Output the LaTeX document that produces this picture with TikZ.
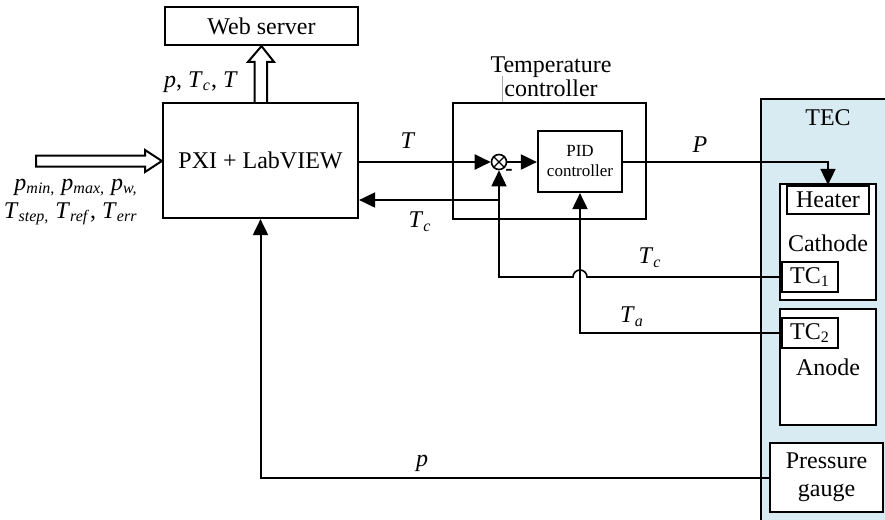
\documentclass[tikz,border=0pt]{standalone}
\usepackage{fontspec}
\setmainfont{Liberation Serif}
\usetikzlibrary{arrows.meta,calc}
\definecolor{tecblue}{RGB}{216,234,242}
\newcommand\myvar[2]{\textit{#1}\textsubscript{\textit{#2}}}
\begin{document}
\begin{tikzpicture}[x=0.5pt,y=-0.5pt,
  box/.style={draw, line width=1.1pt, inner sep=0pt, align=center, font=\fontsize{12}{13.5}\selectfont},
  lbl/.style={inner sep=0pt, font=\fontsize{12}{13}\selectfont},
  conn/.style={line width=1pt},
  tconn/.style={line width=0.8pt},
  arr/.style={-{Triangle[length=8pt,width=7.5pt]}},
  hollow/.style={draw, line width=1pt, fill=white, line join=miter}
]
\useasboundingbox (0,0) rectangle (885,520);
% TEC background
\fill[tecblue] (761,99) rectangle (885,520);
\draw[line width=1.1pt] (890,99) -- (761,99) -- (761,525);
\node[lbl] (tec) at (828,118) {TEC};

% boxes
\node[box, minimum width=96.5pt, minimum height=19pt] (web) at (261.5,26) {Web server};
\node[box, minimum width=97.5pt, minimum height=57.5pt] (pxi) at (260.5,160.5) {PXI + LabVIEW};
\node[box, minimum width=96.5pt, minimum height=58pt] (tcbox) at (549.5,161) {};
\node[lbl, align=center, font=\fontsize{12}{10.5}\selectfont] (tclabel) at (551,77) {Temperature\\controller};
\coordinate (gl) at (502,76);
\draw[gray!70, line width=0.5pt] (gl) -- (gl |- tcbox.north);
\node[draw, circle, line width=0.8pt, minimum size=7.5pt, inner sep=0pt] (sum) at (499,162) {};
\draw[line width=0.7pt] (sum.north east) -- (sum.south west) (sum.north west) -- (sum.south east);
\node[inner sep=0pt, font=\bfseries\fontsize{11}{11}\selectfont] (minus) at (509,172) {-};
\node[box, minimum width=42pt, minimum height=30.5pt, font=\fontsize{8.5}{10}\selectfont] (pid) at (580,161.5) {PID\\controller};

\node[box, fill=white, minimum width=48pt, minimum height=58pt] (cathode) at (828,242) {};
\node[lbl] (cathlbl) at (828,243) {Cathode};
\node[box, minimum width=41pt, minimum height=14pt] (heater) at (828,200) {Heater};
\node[box, minimum width=28pt, minimum height=15pt] (tc1) at (810,277) {TC\textsubscript{1}};
\node[box, fill=white, minimum width=48pt, minimum height=58pt] (anode) at (828,367) {};
\node[lbl] (anodelbl) at (828,367) {Anode};
\node[box, minimum width=28pt, minimum height=15pt] (tc2) at (810,333) {TC\textsubscript{2}};
\node[box, fill=white, minimum width=56.5pt, minimum height=34.5pt, font=\fontsize{12}{14}\selectfont] (gauge) at (826.5,477.5) {Pressure\\gauge};

% hollow arrows
\draw[hollow] ($(pxi.north)+(-6,0)$) -- ($(pxi.north)+(-6,-40)$) -- ($(pxi.north)+(-12.5,-40)$)
  -- (web.south) -- ($(pxi.north)+(13.5,-40)$) -- ($(pxi.north)+(6.5,-40)$) -- ($(pxi.north)+(6.5,0)$);
\coordinate (inl) at (36,161);
\draw[hollow] ($(inl)+(0,-5.5)$) -- ($(inl)+(109,-5.5)$) -- ($(inl)+(109,-11)$) -- (pxi.west |- inl)
  -- ($(inl)+(109,11)$) -- ($(inl)+(109,5.5)$) -- ($(inl)+(0,5.5)$) -- cycle;

% labels
\node[lbl] (lweb) at (201,82) {\textit{p}, \myvar{T}{c}, \textit{T}};
\node[lbl, anchor=base east] (lin1) at (138,190) {\myvar{p}{min,} \myvar{p}{max,} \myvar{p}{w,}};
\node[lbl, anchor=base east] (lin2) at (138,218) {\myvar{T}{step,} \myvar{T}{ref}, \myvar{T}{err}};
\node[lbl] (lT) at (408,141) {\textit{T}};
\node[lbl] (lTc1) at (420,222) {\myvar{T}{c}};
\node[lbl] (lP) at (700,145) {\textit{P}};
\node[lbl] (lTc2) at (650,258) {\myvar{T}{c}};
\node[lbl] (lTa) at (632,317) {\myvar{T}{a}};
\node[lbl] (lp) at (422,463) {\textit{p}};

% connectors
\draw[conn, arr] (pxi.east |- sum.west) -- (sum.west);
\draw[conn, arr] (sum.east) -- (pid.west |- sum.east);
\coordinate (jn) at (sum.south |- 0,200);
\draw[conn, arr] (jn) -- (pxi.east |- jn);
\coordinate (jx) at (pid.south |- tc1.west);
\draw[tconn, arr] (tc1.west) -- ($(jx)+(7,0)$) arc[start angle=0, end angle=180, radius=3.5pt]
  -- (sum.south |- tc1.west) -- (sum.south);
\draw[conn, arr] (tc2.west) -- (pid.south |- tc2.west) -- (pid.south);
\draw[tconn, arr] (pid.east |- sum.east) -- (heater.north |- sum.east) -- (heater.north);
\draw[conn, arr] (gauge.west) -- (pxi.south |- gauge.west) -- (pxi.south);
\end{tikzpicture}
\end{document}
